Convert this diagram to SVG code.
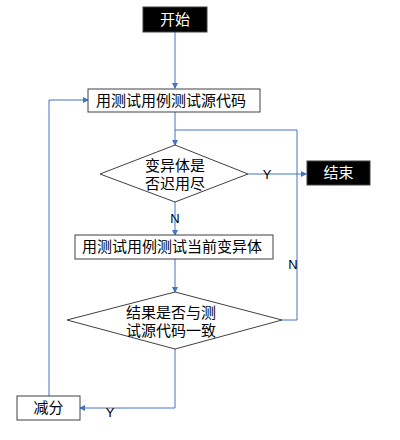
<svg xmlns="http://www.w3.org/2000/svg" width="400" height="440" viewBox="0 0 400 440">
<style>
.box{fill:#fff;stroke:#404040;stroke-width:1}
.term{fill:#000;stroke:#404040;stroke-width:1}
.dia{fill:#fff;stroke:#404040;stroke-width:1}
.t{font-family:"Liberation Sans","Noto Sans CJK SC",sans-serif;font-size:15px;fill:#000}
.tw{font-family:"Liberation Sans","Noto Sans CJK SC",sans-serif;font-size:15px;fill:#fff}
.lbl{font-family:"Liberation Sans","Noto Sans CJK SC",sans-serif;font-size:13px;fill:#000}
.c{fill:none;stroke:#4472C4;stroke-width:1}
</style>
<defs>
<marker id="ah" markerWidth="6" markerHeight="6" refX="5" refY="3" orient="auto" markerUnits="userSpaceOnUse">
<path d="M0,0 L6,3 L0,6 z" fill="#4472C4"/>
</marker>
</defs>
<rect width="400" height="440" fill="#fff"/>
<g id="connectors">
<path class="c" d="M175,32 V88" marker-end="url(#ah)"/>
<path class="c" d="M175,112 V145" marker-end="url(#ah)"/>
<path class="c" d="M282,320 H297 V130 H175"/>
<path class="c" d="M248,174 H306" marker-end="url(#ah)"/>
<path class="c" d="M175,202 V235" marker-end="url(#ah)"/>
<path class="c" d="M175,259 V292" marker-end="url(#ah)"/>
<path class="c" d="M175,349 V408 H80" marker-end="url(#ah)"/>
<path class="c" d="M49,396 V100 H88" marker-end="url(#ah)"/>
<text class="lbl" x="267" y="179" text-anchor="middle">Y</text>
<text class="lbl" x="175" y="223" text-anchor="middle">N</text>
<text class="lbl" x="293" y="269" text-anchor="middle">N</text>
<text class="lbl" x="110" y="417" text-anchor="middle">Y</text>
</g>
<g id="start">
<rect class="term" x="143" y="7" width="64" height="25"/>
<text class="tw" x="175" y="25" text-anchor="middle">开始</text>
</g>
<g id="test-source">
<rect class="box" x="88" y="89" width="172" height="23"/>
<text class="t" x="96" y="106">用测试用例测试源代码</text>
</g>
<g id="mutants-exhausted">
<polygon class="dia" points="175,145 248,174 175,202 100,174"/>
<text class="t" x="175" y="171" text-anchor="middle">变异体是</text>
<text class="t" x="175" y="189" text-anchor="middle">否迟用尽</text>
</g>
<g id="end">
<rect class="term" x="307" y="161" width="63" height="24"/>
<text class="tw" x="338.5" y="178" text-anchor="middle">结束</text>
</g>
<g id="test-mutant">
<rect class="box" x="75" y="235" width="198" height="24"/>
<text class="t" x="82" y="252">用测试用例测试当前变异体</text>
</g>
<g id="result-same">
<polygon class="dia" points="175,292 282,320 175,349 67,320"/>
<text class="t" x="171" y="318" text-anchor="middle">结果是否与测</text>
<text class="t" x="171" y="336" text-anchor="middle">试源代码一致</text>
</g>
<g id="deduct">
<rect class="box" x="17" y="396" width="63" height="24"/>
<text class="t" x="48.5" y="413" text-anchor="middle">减分</text>
</g>
</svg>
